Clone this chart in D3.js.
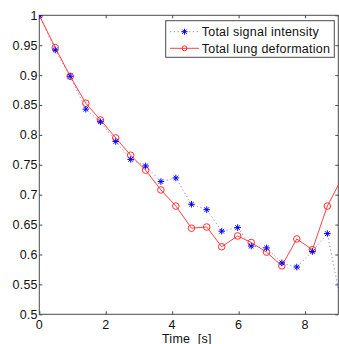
<!DOCTYPE html>
<html>
<head>
<meta charset="utf-8">
<script src="https://cdn.jsdelivr.net/npm/d3@7"></script>
<style>
  body { margin: 0; background: #fff; }
  svg { display: block; font-family: "Liberation Sans", Arial, sans-serif; }
  svg text { letter-spacing: 0.25px; fill: #111; }
</style>
</head>
<body>
<figure id="chart" style="margin:0"></figure>
<script>
// frame times in seconds (last one falls just past the axis and is clipped)
const times = [0, 0.48, 0.93, 1.40, 1.84, 2.30, 2.75, 3.20, 3.66, 4.11, 4.58, 5.04, 5.49, 5.97, 6.38, 6.84, 7.30, 7.75, 8.22, 8.67, 9.13];
const signalIntensity = [1.0, 0.942, 0.898, 0.843, 0.822, 0.789, 0.759, 0.748, 0.722, 0.728, 0.684, 0.675, 0.639, 0.645, 0.614, 0.611, 0.586, 0.579, 0.605, 0.635, 0.506];
const lungDeformation = [1.0, 0.946, 0.898, 0.853, 0.825, 0.795, 0.766, 0.741, 0.708, 0.681, 0.644, 0.646, 0.613, 0.631, 0.620, 0.604, 0.581, 0.626, 0.608, 0.681, 0.730];
const xTicks = [0, 2, 4, 6, 8];
const yTicks = [0.5, 0.55, 0.6, 0.65, 0.7, 0.75, 0.8, 0.85, 0.9, 0.95, 1];
const seriesNames = ["Total signal intensity", "Total lung deformation"];

const W = 339, H = 344;
const plotLeft = 39.3, plotRight = 338.3, plotTop = 15.3, plotBottom = 314.3;
const axisColor = "#4a4a4a";
const fontSize = 12.5;

const svg = d3.select("figure#chart")
  .append("svg")
  .attr("width", W)
  .attr("height", H);

const x = d3.scaleLinear().domain([0, 9]).range([plotLeft, plotRight]);
const y = d3.scaleLinear().domain([0.5, 1]).range([plotBottom, plotTop]);

svg.append("clipPath").attr("id", "plotclip")
  .append("rect")
  .attr("x", plotLeft).attr("y", plotTop)
  .attr("width", plotRight - plotLeft).attr("height", plotBottom - plotTop);

// inward ticks on all four sides, matlab style
svg.append("g")
  .attr("transform", `translate(0,${plotBottom})`)
  .call(d3.axisTop(x).tickValues(xTicks).tickSize(3).tickFormat(""))
  .call(g => g.select(".domain").remove());
svg.append("g")
  .attr("transform", `translate(0,${plotTop})`)
  .call(d3.axisBottom(x).tickValues(xTicks).tickSize(3).tickFormat(""))
  .call(g => g.select(".domain").remove());
svg.append("g")
  .attr("transform", `translate(${plotLeft},0)`)
  .call(d3.axisRight(y).tickValues(yTicks).tickSize(3).tickFormat(""))
  .call(g => g.select(".domain").remove());
svg.append("g")
  .attr("transform", `translate(${plotRight},0)`)
  .call(d3.axisLeft(y).tickValues(yTicks).tickSize(3).tickFormat(""))
  .call(g => g.select(".domain").remove());
svg.selectAll(".tick line").attr("stroke", axisColor);

// box
svg.append("rect")
  .attr("x", plotLeft).attr("y", plotTop)
  .attr("width", plotRight - plotLeft).attr("height", plotBottom - plotTop)
  .attr("fill", "none")
  .attr("stroke", axisColor)
  .attr("stroke-width", 1);

// tick labels
svg.selectAll("text.xlab")
  .data(xTicks)
  .enter().append("text")
  .attr("class", "xlab")
  .attr("x", d => x(d))
  .attr("y", 329)
  .attr("text-anchor", "middle")
  .attr("font-size", fontSize)
  .text(d => d);

svg.selectAll("text.ylab")
  .data(yTicks)
  .enter().append("text")
  .attr("class", "ylab")
  .attr("x", 37.8)
  .attr("y", d => y(d) + 4.4)
  .attr("text-anchor", "end")
  .attr("font-size", fontSize)
  .text(d => d3.format("")(d));

svg.append("text")
  .attr("x", (plotLeft + plotRight) / 2 - 2)
  .attr("y", 342.5)
  .attr("text-anchor", "middle")
  .attr("font-size", fontSize)
  .style("white-space", "pre")
  .text("Time  [s]");

const plot = svg.append("g").attr("clip-path", "url(#plotclip)");

const blueData = times.map((t, i) => ({ x: t, y: signalIntensity[i] }));
const redData = times.map((t, i) => ({ x: t, y: lungDeformation[i] }));

const line = d3.line()
  .x(d => x(d.x))
  .y(d => y(d.y));

// Add the lines
plot.append("path")
  .datum(blueData)
  .attr("fill", "none")
  .attr("stroke", "#3333ff")
  .attr("stroke-opacity", 0.6)
  .attr("stroke-width", 1)
  .attr("stroke-dasharray", "1.2,2.6")
  .attr("d", line);

plot.append("path")
  .datum(redData)
  .attr("fill", "none")
  .attr("stroke", "#ff2020")
  .attr("stroke-opacity", 0.85)
  .attr("stroke-width", 1)
  .attr("d", line);

function star(sel, r) {
  sel.append("path")
    .attr("d", `M${-r},0H${r}M0,${-r}V${r}M${-r * 0.7},${-r * 0.7}L${r * 0.7},${r * 0.7}M${-r * 0.7},${r * 0.7}L${r * 0.7},${-r * 0.7}`)
    .attr("stroke", "#0000ff")
    .attr("stroke-width", 1)
    .attr("fill", "none");
}

function circleO(sel, r) {
  sel.append("circle")
    .attr("r", r)
    .attr("fill", "none")
    .attr("stroke", "#ff3030")
    .attr("stroke-width", 1);
}

// red markers below blue so overlapping stars stay visible
plot.selectAll("g.red")
  .data(redData)
  .enter().append("g")
  .attr("class", "red")
  .attr("transform", d => `translate(${x(d.x)},${y(d.y)})`)
  .call(circleO, 3.3);

plot.selectAll("g.blue")
  .data(blueData)
  .enter().append("g")
  .attr("class", "blue")
  .attr("transform", d => `translate(${x(d.x)},${y(d.y)})`)
  .call(star, 3.3);

// legend
const lg = svg.append("g");
lg.append("rect")
  .attr("x", 165.7).attr("y", 20.7)
  .attr("width", 168.6).attr("height", 36.6)
  .attr("fill", "#fff")
  .attr("stroke", axisColor)
  .attr("stroke-width", 1);

const rowY = [31.7, 48.3];
lg.append("line")
  .attr("x1", 170).attr("x2", 199).attr("y1", rowY[0]).attr("y2", rowY[0])
  .attr("stroke", "#3333ff").attr("stroke-opacity", 0.6)
  .attr("stroke-dasharray", "1.2,2.6");
lg.append("g").attr("transform", `translate(184.5,${rowY[0]})`).call(star, 3);
lg.append("line")
  .attr("x1", 170).attr("x2", 199).attr("y1", rowY[1]).attr("y2", rowY[1])
  .attr("stroke", "#ff2020").attr("stroke-opacity", 0.85);
lg.append("g").attr("transform", `translate(184.5,${rowY[1]})`).call(circleO, 2.5);

lg.selectAll("text")
  .data(seriesNames)
  .enter().append("text")
  .attr("x", 201.7)
  .attr("y", (d, i) => rowY[i] + 4.4)
  .attr("font-size", fontSize)
  .text(d => d);
</script>
</body>
</html>
